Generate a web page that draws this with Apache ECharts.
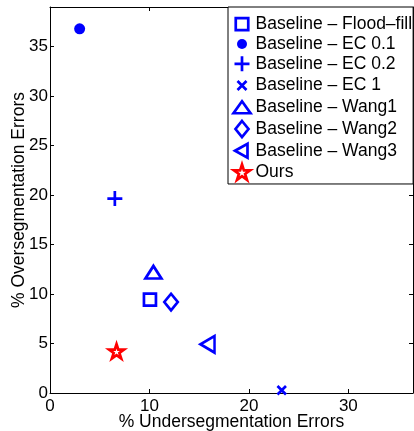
<!DOCTYPE html>
<html>
<head>
<meta charset="utf-8">
<title>segmentation errors</title>
<script src="https://cdn.jsdelivr.net/npm/echarts@6/dist/echarts.min.js"></script>
<style>
    html, body { margin: 0; padding: 0; background: #fff; }
    #main { width: 414px; height: 431px; }
</style>
</head>
<body>
<div id="main"></div>
<script>
// values (% errors)
var methodNames = [
    'Baseline – Flood–fill',
    'Baseline – EC 0.1',
    'Baseline – EC 0.2',
    'Baseline – EC 1',
    'Baseline – Wang1',
    'Baseline – Wang2',
    'Baseline – Wang3',
    'Ours'
];
var underseg = [10.05, 2.98, 6.52, 23.3, 10.4, 12.17, 15.84, 6.69];
var overseg  = [9.43, 36.8, 19.64, 0.27, 12.2, 9.19, 4.92, 4.21];

var xName = '% Undersegmentation Errors';
var yName = '% Oversegmentation Errors';

var BLUE = '#0000ff', RED = '#ff0000';
var FONT = 'Liberation Sans, Arial, Helvetica, sans-serif';

var starPath = 'path://M10,0 L12.245,6.91 L19.511,6.91 L13.633,11.18 L15.878,18.09 L10,13.82 L4.122,18.09 L6.367,11.18 L0.489,6.91 L7.755,6.91 Z';

// marker look per method; legend icons sit in a 20x17 frame (the two M's fix the frame)
var markers = [
    { symbol: 'rect', size: 12, fill: false, color: BLUE,
      icon: 'path://M0,0 M20,17 M5.25,2.25 L17.75,2.25 L17.75,14.25 L5.25,14.25 Z' },
    { symbol: 'circle', size: 11, fill: true, color: BLUE,
      icon: 'path://M0,0 M20,17 M6.5,8.5 A5,5 0 1 1 16.5,8.5 A5,5 0 1 1 6.5,8.5 Z' },
    { symbol: 'path://M0,5 L10,5 M5,0 L5,10', size: 15, fill: false, color: BLUE,
      icon: 'path://M0,0 M20,17 M4,8.5 L19,8.5 M11.5,1 L11.5,16' },
    { symbol: 'path://M0,0 L10,10 M10,0 L0,10', size: 8.5, fill: false, color: BLUE,
      icon: 'path://M0,0 M20,17 M7,4 L16,13 M16,4 L7,13' },
    { symbol: 'triangle', size: [16, 12.5], fill: false, color: BLUE,
      icon: 'path://M0,0 M20,17 M11.5,2.5 L20,14.5 L3,14.5 Z' },
    { symbol: 'diamond', size: [13.5, 16.5], fill: false, color: BLUE,
      icon: 'path://M0,0 M20,17 M11.5,0.5 L18,8.5 L11.5,16.5 L5,8.5 Z' },
    { symbol: 'path://M0,5 L10,0 L10,10 Z', size: [14, 16.5], fill: false, color: BLUE,
      icon: 'path://M0,0 M20,17 M4.5,8.5 L17,1.5 L17,15.5 Z' },
    { symbol: starPath, size: [15, 14.3], fill: false, color: RED,
      icon: 'path://M0,0 M20,17 M11.5,0.5 L13.41,6.37 L19.584,6.373 L14.59,10 L16.496,15.877 L11.5,12.25 L6.504,15.877 L8.41,10 L3.416,6.373 L9.59,6.37 Z' }
];

var chart = echarts.init(document.getElementById('main'));

var series = methodNames.map(function (name, i) {
    var m = markers[i];
    return {
        name: name,
        type: 'scatter',
        data: [[underseg[i], overseg[i]]],
        symbol: m.symbol,
        symbolSize: m.size,
        itemStyle: {
            color: m.fill ? m.color : 'none',
            borderColor: m.color,
            borderWidth: m.fill ? 0 : 2.7,
            borderJoin: 'miter',
            opacity: 1
        },
        emphasis: { disabled: true },
        silent: true
    };
});

var tickStyle = { show: true, inside: true, length: 4, lineStyle: { color: '#000', width: 1 } };
var lineStyle = { show: true, onZero: false, lineStyle: { color: '#000', width: 1 } };

chart.setOption({
    animation: false,
    backgroundColor: '#fff',
    textStyle: { fontFamily: FONT },
    grid: { left: 50, right: 1, top: 7, bottom: 38, outerBoundsMode: 'none' },
    legend: {
        orient: 'vertical',
        left: 228,
        top: 7,
        padding: [6.3, 1, 0.5, 0],
        itemWidth: 20,
        itemHeight: 17,
        itemGap: -0.26,
        backgroundColor: '#fff',
        borderColor: '#000',
        borderWidth: 1,
        borderRadius: 0,
        selectedMode: false,
        itemStyle: { borderWidth: 2.7, borderJoin: 'miter', opacity: 1 },
        textStyle: { color: '#000', fontSize: 17.5, fontFamily: FONT, lineHeight: 17 },
        data: methodNames.map(function (name, i) {
            return {
                name: name,
                icon: markers[i].icon,
                itemStyle: markers[i].fill ? { borderWidth: 0 } : {}
            };
        })
    },
    xAxis: [{
        type: 'value', min: 0, max: 36.5, interval: 10, position: 'bottom',
        axisLine: lineStyle, axisTick: tickStyle, splitLine: { show: false },
        axisLabel: { color: '#000', fontSize: 17, margin: 5, showMaxLabel: false, fontFamily: FONT },
        name: xName, nameLocation: 'middle', nameGap: 20, nameMoveOverlap: false,
        nameTextStyle: { color: '#000', fontSize: 17.5, fontFamily: FONT }
    }, {
        type: 'value', min: 0, max: 36.5, interval: 10, position: 'top',
        axisLine: lineStyle, axisTick: tickStyle, splitLine: { show: false },
        axisLabel: { show: false }
    }],
    yAxis: [{
        type: 'value', min: 0, max: 39, interval: 5, position: 'left',
        axisLine: lineStyle, axisTick: tickStyle, splitLine: { show: false },
        axisLabel: { color: '#000', fontSize: 17, margin: 2, showMaxLabel: false, fontFamily: FONT },
        name: yName, nameLocation: 'middle', nameGap: 22, nameMoveOverlap: false,
        nameTextStyle: { color: '#000', fontSize: 17.5, fontFamily: FONT }
    }, {
        type: 'value', min: 0, max: 39, interval: 5, position: 'right',
        axisLine: lineStyle, axisTick: tickStyle, splitLine: { show: false },
        axisLabel: { show: false }
    }],
    series: series
});
</script>
</body>
</html>
